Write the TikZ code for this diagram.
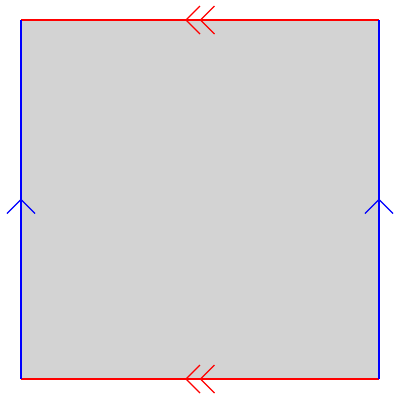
\documentclass[tikz,border=0pt]{standalone}
\definecolor{sqgray}{HTML}{D3D3D3}
\definecolor{edgered}{HTML}{FF0000}
\definecolor{edgeblue}{HTML}{0000FF}
\tikzset{
  rededge/.style={draw=edgered, line width=1.6pt},
  blueedge/.style={draw=edgeblue, line width=1.6pt},
  chev/.style={line width=1.4pt, line join=miter}
}
\begin{document}
\begin{tikzpicture}[x=1pt,y=-1pt]
\useasboundingbox (0,0) rectangle (400,400);
\coordinate (tl) at (21,20);
\coordinate (tr) at (379,20);
\coordinate (bl) at (21,379);
\coordinate (br) at (379,379);
\fill[sqgray] (tl) rectangle (br);
\draw[rededge] (tr) -- (tl);
\draw[rededge] (br) -- (bl);
\draw[blueedge] (bl) -- (tl);
\draw[blueedge] (br) -- (tr);
% top double chevron
\draw[chev, edgered] (200,6) -- (186,20) -- (200,34);
\draw[chev, edgered] (214.5,6) -- (200.5,20) -- (214.5,34);
% bottom double chevron
\draw[chev, edgered] (200,365) -- (186,379) -- (200,393);
\draw[chev, edgered] (214.5,365) -- (200.5,379) -- (214.5,393);
% left and right single chevrons
\draw[chev, edgeblue] (7,213.5) -- (21,199.5) -- (35,213.5);
\draw[chev, edgeblue] (365,213.5) -- (379,199.5) -- (393,213.5);
\end{tikzpicture}
\end{document}
